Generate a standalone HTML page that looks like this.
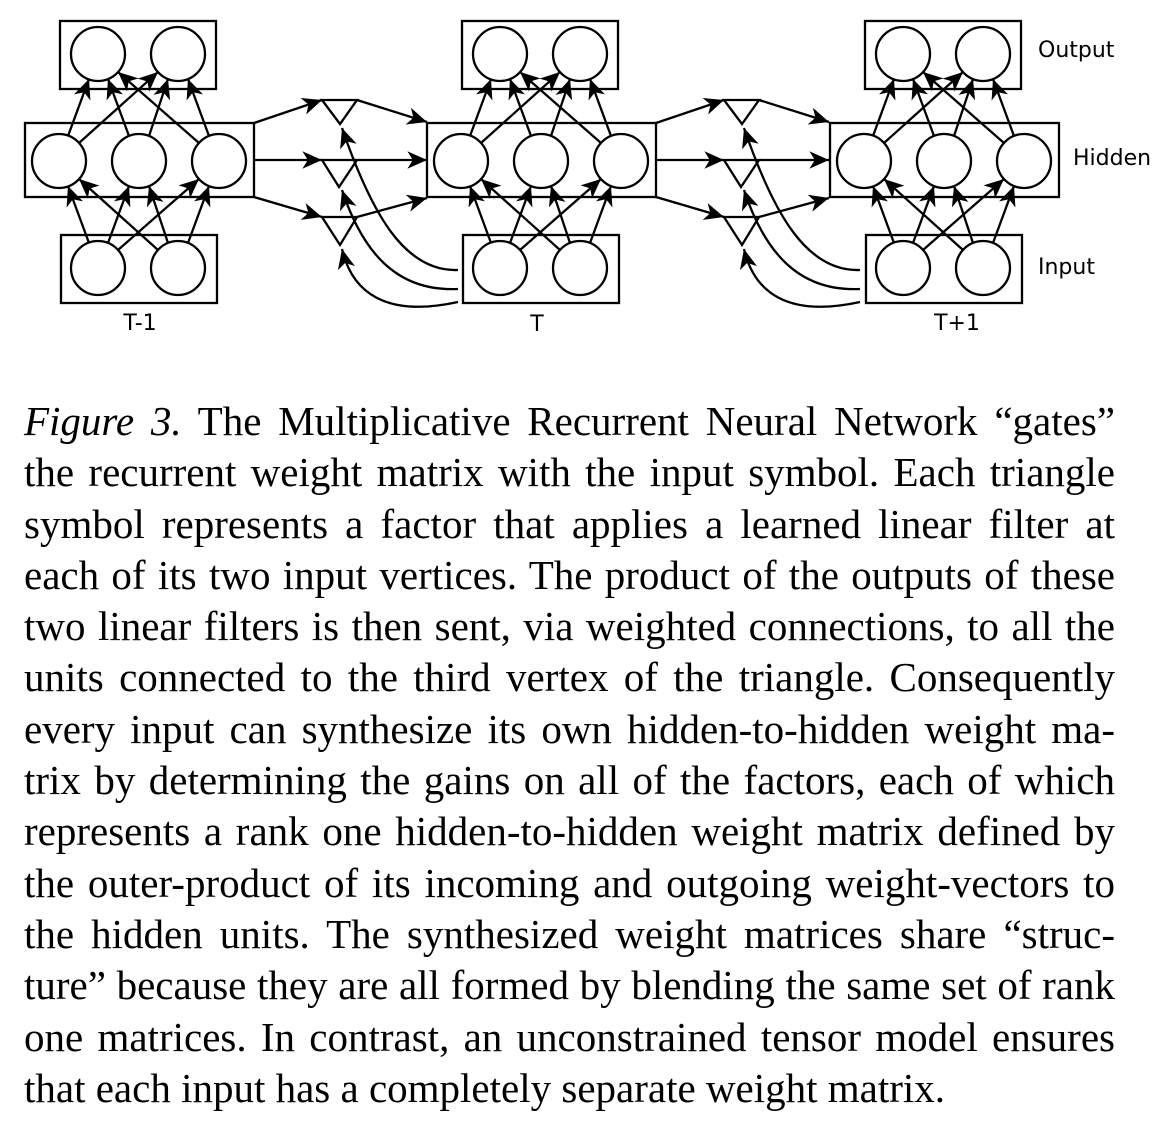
<!DOCTYPE html>
<html><head><meta charset="utf-8"><style>
html,body{margin:0;padding:0;background:#fff;width:1152px;height:1126px;overflow:hidden}
svg{position:absolute;left:0;top:0}
.cap{position:absolute;left:24px;top:396px;width:1091px;font-family:"Liberation Serif",serif;font-size:41px;line-height:51.3px;color:#000}
.cap div{text-align:justify;text-align-last:justify;white-space:nowrap}
.cap div.l{text-align-last:left}
</style></head><body>
<svg width="1152" height="360" viewBox="0 0 1152 360">
<defs>
<marker id="a" markerUnits="userSpaceOnUse" markerWidth="24" markerHeight="24" refX="0" refY="0" viewBox="-20 -10 22 20" orient="auto">
<path d="M0,0 L-18,-8 L-13,0 L-18,8 Z" fill="#000"/>
</marker>
<g id="blk" fill="none" stroke="#000" stroke-width="2.3">
<rect x="60" y="21" width="156" height="68" fill="#fff"/>
<rect x="25" y="123" width="229" height="74" fill="#fff"/>
<rect x="61" y="235" width="156" height="68" fill="#fff"/>
<circle cx="98" cy="54" r="27"/><circle cx="178" cy="54" r="27"/>
<circle cx="59" cy="161" r="27"/><circle cx="139" cy="161" r="27"/><circle cx="219" cy="161" r="27"/>
<circle cx="98" cy="268" r="27"/><circle cx="178" cy="268" r="27"/>
<g marker-end="url(#a)">
<path d="M68,136 L89,79"/><path d="M79,143 L158,72"/><path d="M129,136 L108,79"/>
<path d="M149,136 L168,79"/><path d="M199,143 L118,72"/><path d="M209,136 L188,79"/>
<path d="M89,243 L68,186"/><path d="M108,243 L129,186"/><path d="M118,250 L199,179"/>
<path d="M158,250 L79,179"/><path d="M168,243 L149,186"/><path d="M188,243 L209,186"/>
</g>
</g>
<g id="gap" fill="none" stroke="#000" stroke-width="2.3">
<path d="M322,100 L357,100 L340,124 Z"/>
<path d="M322,160 L357,160 L339,187 Z"/>
<path d="M322,217 L357,217 L340,245 Z"/>
<g marker-end="url(#a)">
<path d="M254,123 L322,100"/><path d="M254,160 L322,160"/><path d="M254,197 L322,217"/>
<path d="M357,100 L427,122"/><path d="M357,160 L427,160"/><path d="M357,217 L427,198"/>
<path d="M458,270 C405,272 372,215 342,128"/>
<path d="M458,289 C395,292 362,250 342,190"/>
<path d="M458,302 C385,318 352,292 342,249"/>
</g>
</g>
</defs>
<use href="#gap"/>
<use href="#gap" transform="translate(402,0)"/>
<use href="#blk"/>
<use href="#blk" transform="translate(402,0)"/>
<use href="#blk" transform="translate(805,0)"/>
<g font-family="DejaVu Sans, sans-serif" font-size="22" fill="#000">
<text x="140" y="330" text-anchor="middle">T-1</text>
<text x="537" y="331" text-anchor="middle">T</text>
<text x="957" y="330" text-anchor="middle">T+1</text>
<text x="1038" y="57">Output</text>
<text x="1073" y="165">Hidden</text>
<text x="1038" y="274">Input</text>
</g>
</svg>
<div class="cap">
<div><i>Figure 3.</i> The Multiplicative Recurrent Neural Network “gates”</div>
<div>the recurrent weight matrix with the input symbol. Each triangle</div>
<div>symbol represents a factor that applies a learned linear filter at</div>
<div>each of its two input vertices. The product of the outputs of these</div>
<div>two linear filters is then sent, via weighted connections, to all the</div>
<div>units connected to the third vertex of the triangle. Consequently</div>
<div>every input can synthesize its own hidden-to-hidden weight ma-</div>
<div>trix by determining the gains on all of the factors, each of which</div>
<div>represents a rank one hidden-to-hidden weight matrix defined by</div>
<div>the outer-product of its incoming and outgoing weight-vectors to</div>
<div>the hidden units. The synthesized weight matrices share “struc-</div>
<div>ture” because they are all formed by blending the same set of rank</div>
<div>one matrices. In contrast, an unconstrained tensor model ensures</div>
<div class="l">that each input has a completely separate weight matrix.</div>
</div>
</body></html>
